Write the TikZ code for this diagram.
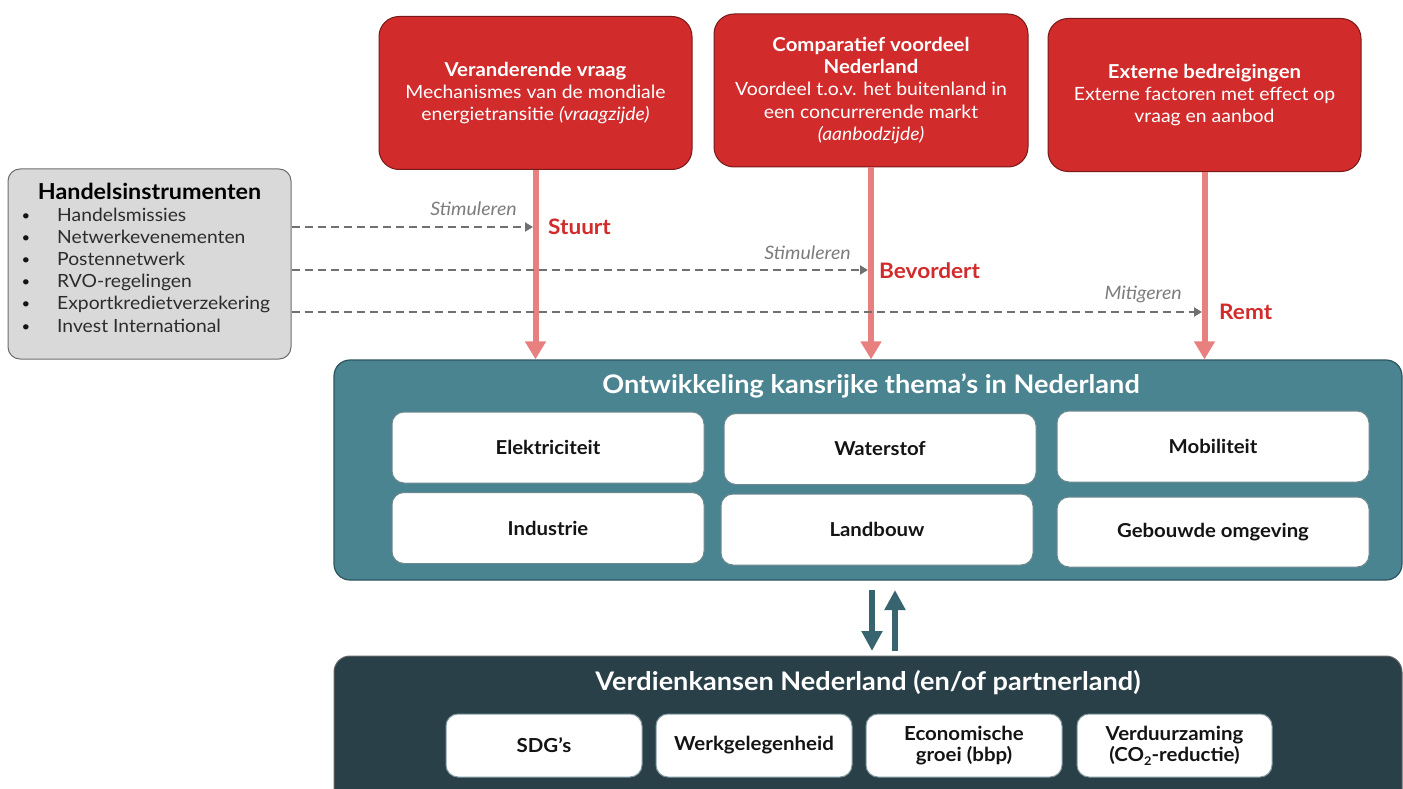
\documentclass[tikz,border=0pt]{standalone}
\usepackage{fontspec}
\setmainfont{Lato}[FakeStretch=1.06]
\usetikzlibrary{arrows.meta}
\definecolor{boxred}{RGB}{209,43,43}
\definecolor{boxredline}{RGB}{120,25,25}
\definecolor{pinkarrow}{RGB}{232,128,128}
\definecolor{panelgray}{RGB}{217,217,217}
\definecolor{panelgrayline}{RGB}{110,110,110}
\definecolor{teal}{RGB}{74,132,145}
\definecolor{tealline}{RGB}{45,85,95}
\definecolor{darkpanel}{RGB}{41,64,73}
\definecolor{darkteal}{RGB}{55,100,110}
\definecolor{dashgray}{RGB}{112,112,112}
\definecolor{labelgray}{RGB}{125,125,125}
\definecolor{inktext}{RGB}{20,20,20}
\newcommand{\boxhead}[1]{{\fontsize{19.2}{22}\selectfont\bfseries #1}}
\tikzset{
  redbox/.style={draw=boxredline, line width=1pt, fill=boxred, rounded corners=20pt,
    minimum width=313pt, minimum height=153pt, text=white, align=center,
    font=\fontsize{18.3}{22.3}\selectfont, inner sep=0pt},
  themebox/.style={draw=tealline!70, line width=1pt, fill=white, rounded corners=12pt,
    minimum width=312pt, minimum height=71pt, text=inktext, align=center,
    font=\fontsize{19.2}{21}\selectfont\bfseries, inner sep=0pt},
  gainbox/.style={draw=tealline!60, line width=1pt, fill=white, rounded corners=12pt,
    minimum width=196pt, minimum height=63pt, text=inktext, align=center,
    font=\fontsize{19.3}{21.5}\selectfont\bfseries, inner sep=0pt},
  pushline/.style={draw=pinkarrow, line width=6pt, -{Triangle[width=20pt,length=18pt]}},
  flowline/.style={draw=darkteal, line width=6pt, -{Triangle[width=20pt,length=20pt]}},
  instrline/.style={draw=dashgray, line width=2pt, dash pattern=on 8pt off 5pt,
    -{Triangle[width=9pt,length=8pt]}},
  verb/.style={text=labelgray, font=\fontsize{18.5}{18.5}\selectfont\itshape, anchor=south east, inner sep=0pt},
  effect/.style={text=boxred, font=\fontsize{21.3}{21.3}\selectfont\bfseries, anchor=west, inner sep=0pt},
  paneltitle/.style={text=white, font=\fontsize{25.6}{25.6}\selectfont\bfseries},
}
\begin{document}
\begin{tikzpicture}[x=1pt,y=-1pt]
\useasboundingbox (0,0) rectangle (1403,789);
\clip (0,0) rectangle (1403,789);

% three driving factors
\node[redbox] (vraag) at (535.5,93)
  {\boxhead{Veranderende vraag}\\Mechanismes van de mondiale\\energietransitie \textit{(vraagzijde)}};
\node[redbox, minimum width=314pt] (voordeel) at (871,90.5)
  {\boxhead{Comparatief voordeel}\\\boxhead{Nederland}\\Voordeel t.o.v. het buitenland in\\een concurrerende markt\\\textit{(aanbodzijde)}};
\node[redbox] (dreiging) at (1204.5,95)
  {\boxhead{Externe bedreigingen}\\Externe factoren met effect op\\vraag en aanbod};

% trade instruments
\node[draw=panelgrayline, line width=1pt, fill=panelgray, rounded corners=12pt,
  minimum width=283pt, minimum height=190pt] (instr) at (149.5,264) {};
\node[text=black, font=\fontsize{22}{22}\selectfont\bfseries] (instrtitle) at (149.5,191) {Handelsinstrumenten};
\foreach \t [count=\i] in {Handelsmissies,Netwerkevenementen,Postennetwerk,RVO-regelingen,Exportkredietverzekering,Invest International}{
  \node[anchor=base west, inner sep=0pt, text=inktext!90, font=\fontsize{18.2}{18.2}\selectfont] (item\i) at (57,{215+22.2*(\i-1)+6}) {\t};
  \node[anchor=base, inner sep=0pt, text=inktext, font=\fontsize{14}{14}\selectfont] (dot\i) at (26,{215+22.2*(\i-1)+5}) {\textbullet};
}

% central themes
\node[draw=tealline, line width=1.2pt, fill=teal, rounded corners=16pt,
  minimum width=1068pt, minimum height=220pt] (themas) at (868,470) {};
\node[paneltitle] (themastitle) at (871,386)
  {Ontwikkeling kansrijke thema’s in Nederland};
\node[themebox] (elek) at (548,447.5) {Elektriciteit};
\node[themebox] (water) at (880,449) {Waterstof};
\node[themebox] (mobi) at (1213,446.5) {Mobiliteit};
\node[themebox] (indu) at (548,528) {Industrie};
\node[themebox] (land) at (877,529.5) {Landbouw};
\node[themebox, minimum height=70pt] (gebouw) at (1213,532) {Gebouwde omgeving};

% earning opportunities
\node[draw=black!60, line width=1pt, fill=darkpanel, rounded corners=16pt,
  minimum width=1068pt, minimum height=160pt] (verdien) at (868,736) {};
\node[paneltitle] (verdientitle) at (868,683)
  {Verdienkansen Nederland (en/of partnerland)};
\node[gainbox] (sdg) at (544,745.5) {SDG’s};
\node[gainbox] (werk) at (754,745.5) {Werkgelegenheid};
\node[gainbox] (groei) at (964,745.5) {Economische\\groei (bbp)};
\node[gainbox, minimum width=195pt] (duurz) at (1174.5,745.5)
  {Verduurzaming\\(CO{\raisebox{-0.35ex}{\fontsize{12}{12}\selectfont 2}}-reductie)};

% influence of the drivers on the themes
\draw[pushline] (vraag.south) -- (vraag.south |- themas.north);
\draw[pushline] (voordeel.south) -- (voordeel.south |- themas.north);
\draw[pushline] (dreiging.south) -- (dreiging.south |- themas.north);

% instruments acting on the drivers
\coordinate (hitA) at (533,227);
\coordinate (hitB) at (868,270);
\coordinate (hitC) at (1202,312);
\draw[instrline] (instr.east |- hitA) -- (hitA);
\draw[instrline] (instr.east |- hitB) -- (hitB);
\draw[instrline] (instr.east |- hitC) -- (hitC);
\node[verb] (stimA) at (517,216) {Stimuleren};
\node[verb] (stimB) at (851,260) {Stimuleren};
\node[verb] (mitC) at (1182,303) {Mitigeren};
\node[effect] (stuurt) at (548,227) {Stuurt};
\node[effect] (bevordert) at (879,271) {Bevordert};
\node[effect] (remt) at (1219,312) {Remt};

% two-way link between themes and earnings
\coordinate (dnTop) at (872,590);
\coordinate (dnBot) at (872,651);
\coordinate (upBot) at (895,651);
\coordinate (upTop) at (895,590);
\draw[flowline] (dnTop) -- (dnBot);
\draw[flowline] (upBot) -- (upTop);
\end{tikzpicture}
\end{document}
